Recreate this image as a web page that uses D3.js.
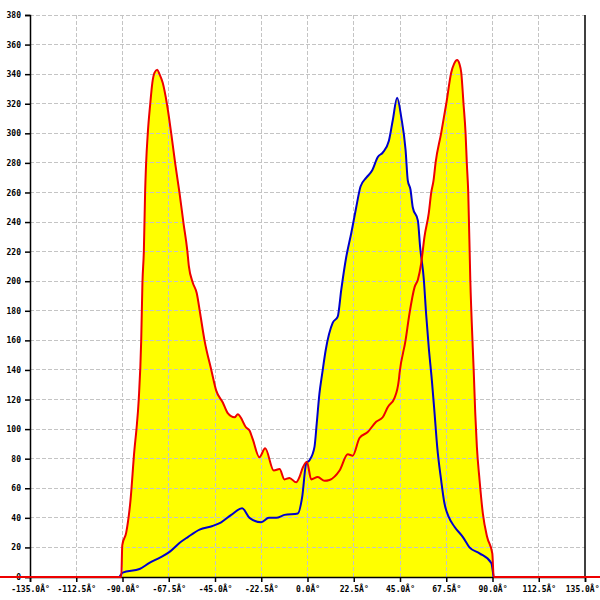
<!DOCTYPE html>
<html>
<head>
<meta charset="utf-8">
<script src="https://cdn.jsdelivr.net/npm/d3@7"></script>
<style>
  body { margin: 0; background: #fff; }
  svg { display: block; }
  .tick-label { font-family: "DejaVu Sans Mono", monospace; font-size: 8px; font-weight: bold; fill: #000; }
</style>
</head>
<body>
<svg class="polar-chart" width="600" height="600"></svg>
<script>
// red series: angle (deg) and count
var redAngles = [-150, -90.6, -90.1, -88.2, -86.1, -84.2, -83.2, -82.1, -80.9, -80.3, -79.6, -79.0, -78.5, -77.7, -76.5, -75.5, -74.4, -73.1, -72.0, -70.4, -68.4, -66.3, -64.4, -62.3, -60.3, -58.5, -57.7, -55.8, -53.9, -52.2, -50.1, -46.8, -44.4, -41.2, -38.9, -35.5, -33.9, -29.8, -28.2, -26.6, -23.4, -20.6, -16.4, -13.6, -11.2, -8.8, -5.5, -3.9, -2.3, -0.3, 1.8, 5.0, 8.3, 10.7, 15.6, 19.6, 22.0, 25.3, 29.3, 33.4, 36.6, 39.1, 42.3, 44.4, 44.8, 47.7, 49.6, 52.1, 53.7, 55.3, 56.9, 59.0, 60.2, 61.3, 62.3, 65.0, 67.5, 69.9, 71.3, 72.8, 73.9, 74.8, 75.9, 76.9, 77.5, 78.2, 79.2, 80.4, 80.9, 81.6, 82.4, 83.7, 85.3, 87.4, 89.9, 90.6, 150];
var redValues = [0, 0, 21.6, 30, 52, 86, 100, 120, 160, 199, 221, 260, 280, 300, 320, 334, 341, 343, 340, 334, 320, 300, 280, 260, 239, 221, 210, 199, 192, 178, 160, 140, 126, 118, 111, 108, 110, 101, 99, 93, 81, 87, 72, 73, 66, 67, 64, 67.6, 74, 78, 66, 67.6, 65, 65.6, 72, 83, 82, 94, 98, 105, 108, 115, 121, 133, 138, 160, 178, 196, 201, 212, 230, 246, 260, 268, 280, 300, 320, 341, 347, 349.6, 347, 341, 320, 300, 280, 260, 201, 155, 138, 111, 88, 65.6, 43, 27, 16, 0, 0];

// blue series
var blueAngles = [-91.5, -89.9, -81.7, -76.9, -72.0, -67.1, -62.3, -58.2, -52.5, -46.2, -42.0, -37.1, -31.8, -28.2, -22.5, -18.8, -15.2, -11.2, -4.7, -2.6, -0.6, 1.0, 3.4, 4.5, 5.8, 7.2, 8.8, 12.3, 14.7, 16.4, 18.8, 21.3, 23.7, 25.8, 28.6, 31.5, 34.2, 36.6, 39.6, 41.5, 43.6, 45.6, 47.7, 48.8, 50.1, 51.2, 53.7, 54.8, 56.6, 57.7, 59.0, 60.5, 61.8, 63.1, 65.0, 66.6, 68.7, 71.5, 75.6, 78.8, 83.7, 89.4, 90.5];
var blueValues = [0, 3, 5.4, 9.5, 13, 17, 23, 27, 32, 34.5, 37, 42, 46.5, 40, 37, 40, 40, 42, 43, 54, 77, 79, 88, 104, 124, 138, 153, 172, 176, 194, 216, 232.6, 250, 264, 270, 275, 284, 287, 295, 309, 324, 311, 289, 268, 262, 250, 241, 223, 201, 178, 155, 133, 111, 88, 65.6, 50, 40.6, 34, 27, 20, 16, 9.5, 0];

var xTicks = [-135, -112.5, -90, -67.5, -45, -22.5, 0, 22.5, 45, 67.5, 90, 112.5, 135];
var yTicks = d3.range(0, 381, 20);

document.addEventListener('DOMContentLoaded', function () {
  "use strict";
  var svg = d3.select("svg.polar-chart");

  var x = d3.scaleLinear().domain([-135, 135]).range([30, 585]);
  var y = d3.scaleLinear().domain([0, 380]).range([577, 15]);

  function points(angles, values) {
    return angles.map(function (a, i) { return [a, values[i]]; });
  }
  var red = points(redAngles, redValues);
  var blue = points(blueAngles, blueValues);

  var area = d3.area()
    .curve(d3.curveMonotoneX)
    .x(function (d) { return x(d[0]); })
    .y0(y(0))
    .y1(function (d) { return y(d[1]); });
  var line = d3.line()
    .curve(d3.curveMonotoneX)
    .x(function (d) { return x(d[0]); })
    .y(function (d) { return y(d[1]); });

  // yellow fills underneath everything
  svg.append("path").attr("d", area(blue)).attr("fill", "#ffff00");
  svg.append("path").attr("d", area(red)).attr("fill", "#ffff00");

  // dashed grid
  var grid = svg.append("g")
    .attr("stroke", "#c4c4c4")
    .attr("stroke-dasharray", "4,2")
    .attr("shape-rendering", "crispEdges");
  grid.selectAll("line.h")
      .data(yTicks.filter(function (v) { return v > 0; }))
    .enter().append("line")
      .attr("x1", 30).attr("x2", 585)
      .attr("y1", function (d) { return y(d); })
      .attr("y2", function (d) { return y(d); });
  grid.selectAll("line.v")
      .data(xTicks.slice(1, -1))
    .enter().append("line")
      .attr("y1", y(380)).attr("y2", y(0))
      .attr("x1", function (d) { return x(d); })
      .attr("x2", function (d) { return x(d); });

  // axes
  var yAxis = svg.append("g")
    .attr("transform", "translate(" + x(-135) + ",0)")
    .call(d3.axisLeft(y).tickValues(yTicks).tickSize(5).tickPadding(4).tickFormat(d3.format("d")));
  var xAxis = svg.append("g")
    .attr("transform", "translate(0," + y(0) + ")")
    .call(d3.axisBottom(x).tickValues(xTicks).tickSize(5).tickPadding(4)
      .tickFormat(function (d) { return d.toFixed(1) + "\u00c2\u00b0"; }));
  [yAxis, xAxis].forEach(function (ax) {
    ax.select(".domain").attr("stroke", "#000").attr("stroke-width", 1.5);
    ax.selectAll(".tick line").attr("stroke", "#000").attr("stroke-width", 1.5);
    ax.selectAll(".tick text").attr("class", "tick-label").attr("font-family", null).attr("font-size", null);
  });
  // last label would run past the edge, keep it inside
  xAxis.selectAll(".tick text")
    .filter(function (d) { return d === 135; })
    .attr("text-anchor", "end").attr("x", 14);
  svg.append("line")
    .attr("x1", x(135)).attr("x2", x(135))
    .attr("y1", y(380)).attr("y2", y(0))
    .attr("stroke", "#000").attr("stroke-width", 1.5);

  // series lines on top
  svg.append("path").attr("d", line(blue))
    .attr("fill", "none").attr("stroke", "#0000cc").attr("stroke-width", 2);
  svg.append("path").attr("d", line(red))
    .attr("fill", "none").attr("stroke", "#ee0000").attr("stroke-width", 2);
}, false);
</script>
</body>
</html>
